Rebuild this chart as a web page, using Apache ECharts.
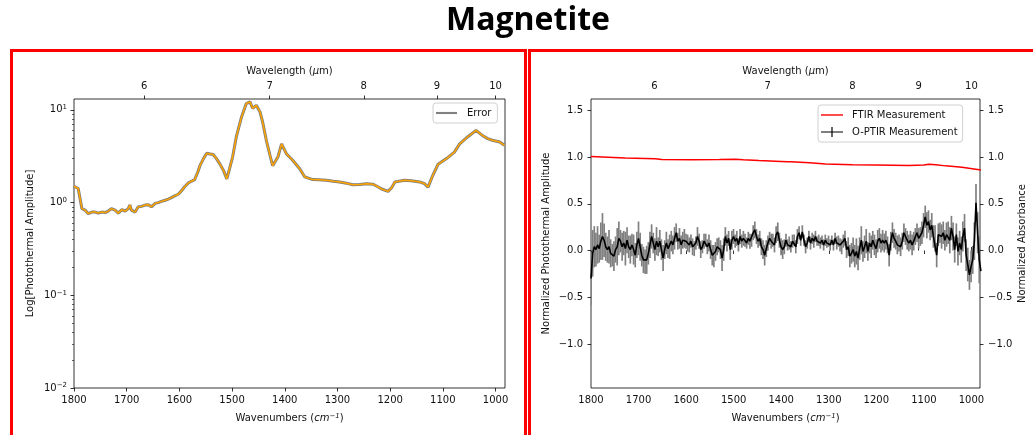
<!DOCTYPE html>
<html>
<head>
<meta charset="utf-8">
<script src="https://cdn.jsdelivr.net/npm/echarts@6/dist/echarts.min.js"></script>
<style>
html,body{margin:0;padding:0;background:#fff;}
#chart{width:1033px;height:435px;}
</style>
</head>
<body>
<div id="chart"></div>
<script>
// ---------------- data ----------------
const WN_TICKS = [1800, 1700, 1600, 1500, 1400, 1300, 1200, 1100, 1000];
const WL_TICKS = [6, 7, 8, 9, 10];
const LOG_TICKS = [0.01, 0.1, 1, 10];
const LOG_MINOR = [0.02,0.03,0.04,0.05,0.06,0.07,0.08,0.09,0.2,0.3,0.4,0.5,0.6,0.7,0.8,0.9,2,3,4,5,6,7,8,9];
const NORM_TICKS = [-1, -0.5, 0, 0.5, 1, 1.5];

// left panel: photothermal amplitude (log)
const LEFT_WN = [1800,1798,1792,1785,1779,1773,1766,1760,1754,1747,1741,1735,1729,1722,1716,1709,1703,1697,1694,1691,1684,1678,1672,1665,1659,1653,1646,1640,1634,1627,1621,1615,1609,1602,1596,1590,1583,1577,1571,1565,1561,1554,1548,1542,1536,1530,1523,1516,1510,1505,1499,1492,1482,1473,1466,1461,1454,1447,1442,1435,1428,1423,1413,1406,1400,1397,1385,1372,1362,1347,1335,1321,1308,1296,1283,1271,1258,1245,1233,1225,1217,1204,1197,1191,1173,1160,1144,1135,1128,1119,1109,1093,1078,1068,1053,1037,1025,1015,1006,992,983];
const LEFT_AMP = [1.5,1.54,1.42,0.86,0.83,0.76,0.79,0.79,0.77,0.79,0.78,0.81,0.86,0.83,0.77,0.84,0.81,0.86,0.94,0.83,0.79,0.90,0.91,0.94,0.95,0.90,0.98,1.0,1.03,1.06,1.09,1.13,1.18,1.23,1.34,1.48,1.63,1.70,1.77,2.14,2.5,3.0,3.4,3.35,3.3,3.0,2.6,2.2,1.8,2.3,3.1,5.1,8.4,11.7,12.2,10.4,11.2,9.5,7.4,4.7,3.24,2.5,3.1,4.3,3.66,3.37,2.86,2.33,1.89,1.77,1.76,1.74,1.70,1.67,1.62,1.56,1.57,1.6,1.58,1.5,1.41,1.32,1.45,1.67,1.74,1.72,1.67,1.6,1.47,1.97,2.59,2.98,3.5,4.3,5.1,6.0,5.3,4.9,4.7,4.5,4.15];

// right panel: FTIR
const FTIR_WN = [1800,1728,1665,1651,1587,1530,1496,1480,1447,1400,1386,1384,1380,1340,1307,1250,1201,1131,1100,1089,1075,1054,1020,980];
const FTIR_ABS = [1.004,0.99,0.982,0.972,0.970,0.972,0.976,0.970,0.962,0.952,0.948,0.940,0.950,0.938,0.926,0.918,0.915,0.908,0.915,0.922,0.918,0.905,0.89,0.862];

// right panel: O-PTIR (uniform sampling from 1800 down)
const OPTIR_START = 1800;
const OPTIR_STEP = 3.445;
const OPTIR_VAL = [
-0.30,-0.03,0.04,0.01,0.06,0.02,0.10,0.15,0.11,0.04,0.01,0.04,-0.03,-0.05,-0.06,0.01,0.04,0.13,0.10,0.04,0.08,0.02,0.11,0.04,0.01,0.06,0.01,-0.05,0.06,0.13,0.04,-0.05,-0.10,-0.12,-0.10,-0.03,0.06,0.15,0.08,0.01,0.10,0.04,0.10,0.01,-0.08,0.01,0.08,0.02,0.04,0.10,0.06,0.13,0.19,0.10,0.13,0.06,0.11,0.13,0.10,0.08,
0.06,0.10,0.04,0.02,0.08,0.15,0.10,0.01,0.04,0.10,0.11,0.04,0.08,0.01,-0.05,-0.06,-0.01,0.04,0.06,0.01,-0.08,0.01,0.15,0.08,0.13,0.01,0.11,0.15,0.10,0.13,0.06,0.15,0.10,0.13,0.11,0.08,0.13,0.10,0.11,0.19,0.22,0.15,0.10,0.13,0.04,0.01,-0.05,0.02,0.08,0.13,0.10,0.11,0.06,0.17,0.20,0.11,0.04,0.01,0.04,0.11,
0.06,0.08,0.04,0.10,0.11,0.04,0.15,0.19,0.11,0.20,0.11,0.04,0.08,0.15,0.08,0.13,0.10,0.15,0.10,0.11,0.08,0.11,0.06,0.11,0.08,0.10,0.06,0.11,0.06,0.13,0.08,0.10,0.06,0.04,0.10,0.13,0.01,0.04,-0.06,-0.03,0.01,-0.06,-0.01,-0.08,0.02,0.11,-0.01,0.04,0.10,-0.01,0.08,0.04,0.11,0.06,0.02,0.10,0.13,0.08,0.11,0.08,
0.11,0.06,-0.05,0.10,0.19,0.13,0.10,0.06,0.08,0.04,0.10,0.19,0.15,0.11,0.08,0.11,0.06,0.10,0.15,0.19,0.13,0.15,0.19,0.27,0.36,0.27,0.31,0.22,0.27,0.15,0.13,-0.05,0.17,0.19,0.15,0.19,0.11,0.17,0.19,0.11,0.24,0.15,0.01,0.17,-0.01,0.08,0.01,0.15,0.24,-0.05,-0.15,-0.26,-0.17,-0.10,0.10,0.51,0.19,-0.10,-0.22
];
const OPTIR_ERR = [
0.28,0.25,0.22,0.18,0.2,0.15,0.2,0.25,0.18,0.15,0.14,0.18,0.15,0.12,0.16,0.14,0.2,0.18,0.12,0.15,0.13,0.18,0.14,0.12,0.15,0.12,0.16,0.13,0.14,0.18,0.15,0.12,0.14,0.13,0.15,0.12,0.14,0.13,0.11,0.12,0.15,0.1,0.12,0.11,0.14,0.1,0.12,0.1,0.13,0.11,0.1,0.12,0.1,0.09,0.11,0.1,0.09,0.1,0.08,0.09,
0.08,0.07,0.09,0.08,0.07,0.1,0.08,0.09,0.07,0.08,0.07,0.08,0.09,0.1,0.11,0.12,0.1,0.09,0.08,0.1,0.14,0.12,0.1,0.09,0.08,0.11,0.1,0.08,0.07,0.08,0.07,0.08,0.07,0.08,0.07,0.06,0.07,0.08,0.07,0.08,0.09,0.08,0.07,0.08,0.09,0.1,0.11,0.09,0.08,0.07,0.08,0.07,0.08,0.09,0.1,0.08,0.09,0.1,0.08,0.07,
0.06,0.07,0.06,0.07,0.06,0.07,0.08,0.07,0.06,0.07,0.06,0.07,0.06,0.06,0.07,0.06,0.07,0.06,0.05,0.06,0.06,0.05,0.06,0.06,0.05,0.06,0.06,0.05,0.06,0.06,0.07,0.06,0.07,0.08,0.07,0.08,0.09,0.1,0.12,0.11,0.13,0.12,0.14,0.13,0.12,0.15,0.11,0.12,0.13,0.1,0.11,0.12,0.1,0.11,0.1,0.12,0.11,0.1,0.11,0.1,
0.1,0.09,0.12,0.1,0.11,0.1,0.09,0.1,0.09,0.1,0.09,0.1,0.09,0.1,0.09,0.1,0.11,0.1,0.09,0.1,0.11,0.1,0.12,0.13,0.12,0.14,0.12,0.11,0.13,0.12,0.14,0.13,0.12,0.11,0.13,0.12,0.11,0.13,0.12,0.14,0.13,0.15,0.14,0.12,0.15,0.13,0.14,0.16,0.15,0.17,0.18,0.16,0.17,0.15,0.2,0.2,0.22,0.25,0.22
];

// ---------------- build ----------------
const FONT = 'DejaVu Sans';
const TXT = '#111';
const leftSeries = LEFT_WN.map((w, i) => [w, LEFT_AMP[i]]);
const ftirSeries = FTIR_WN.map((w, i) => [w, FTIR_ABS[i]]);
const optirSeries = OPTIR_VAL.map((v, i) => [OPTIR_START - i * OPTIR_STEP, v]);
const optirErr = OPTIR_VAL.map((v, i) => [OPTIR_START - i * OPTIR_STEP, v - OPTIR_ERR[i], v + OPTIR_ERR[i]]);
const wlPositions = WL_TICKS.map(w => 10000 / w);

const XMIN = 982, XMAX = 1800;
const minus = s => String(s).replace('-', '\u2212');

function bottomX(grid) {
  return {
    type: 'value', gridIndex: grid, position: 'bottom', inverse: true, min: XMIN, max: XMAX,
    axisLine: {show: false}, splitLine: {show: false},
    axisTick: {show: true, length: 3.5, customValues: WN_TICKS, lineStyle: {color: '#000', width: 0.8}},
    axisLabel: {customValues: WN_TICKS, formatter: v => String(Math.round(v)), fontFamily: FONT, fontSize: 10, color: TXT, margin: 7},
    name: '{t|Wavenumbers (}{i|cm}{s|\u22121}{t|)}', nameLocation: 'middle', nameGap: 25,
    nameTextStyle: {rich: {
      t: {fontFamily: FONT, fontSize: 10, color: TXT},
      i: {fontFamily: FONT, fontSize: 10, color: TXT, fontStyle: 'italic'},
      s: {fontFamily: FONT, fontSize: 7, color: TXT, fontStyle: 'italic', verticalAlign: 'top', lineHeight: 10}
    }}
  };
}
function topX(grid) {
  return {
    type: 'value', gridIndex: grid, position: 'top', inverse: true, min: XMIN, max: XMAX,
    axisLine: {show: false}, splitLine: {show: false},
    axisTick: {show: true, length: 3.5, customValues: wlPositions, lineStyle: {color: '#000', width: 0.8}},
    axisLabel: {customValues: wlPositions, formatter: v => String(Math.round(10000 / v)), fontFamily: FONT, fontSize: 10, color: TXT, margin: 8},
    name: '{t|Wavelength (}{i|\u03bc}{t|m)}', nameLocation: 'middle', nameGap: 22,
    nameTextStyle: {rich: {
      t: {fontFamily: FONT, fontSize: 10, color: TXT},
      i: {fontFamily: FONT, fontSize: 10, color: TXT, fontStyle: 'italic'}
    }}
  };
}

const ICON_ERR = 'path://M0,4 h20 v2 h-20 z';
const ICON_FTIR = 'path://M0,4.3 h22 v1.4 h-22 z';
const ICON_OPTIR = 'path://M0,4.4 h22 v1.2 h-22 z M10.4,0 h1.2 v10 h-1.2 z';

const option = {
  backgroundColor: '#fff',
  animation: false,
  graphic: [
    {type: 'text', left: 446, top: 5, style: {text: 'Magnetite', fontFamily: 'Open Sans', fontWeight: 'bold', fontSize: 32, fill: '#000'}, z: 100},
    {type: 'rect', shape: {x: 11.5, y: 50.5, width: 514, height: 420}, style: {fill: null, stroke: '#ff0000', lineWidth: 3}, z: 100},
    {type: 'rect', shape: {x: 529.5, y: 50.5, width: 520, height: 420}, style: {fill: null, stroke: '#ff0000', lineWidth: 3}, z: 100}
  ],
  grid: [
    {left: 74, top: 99, width: 431, height: 289, show: true, borderColor: '#000', borderWidth: 0.8, backgroundColor: 'transparent'},
    {left: 591, top: 99, width: 389, height: 289, show: true, borderColor: '#000', borderWidth: 0.8, backgroundColor: 'transparent'}
  ],
  legend: [
    {data: [{name: 'Error', icon: ICON_ERR}], left: 433, top: 103, orient: 'vertical', padding: [5, 6, 5, 3],
      itemWidth: 21, itemHeight: 10, borderColor: '#d0d0d0', borderWidth: 1, borderRadius: 3,
      backgroundColor: 'rgba(255,255,255,0.8)',
      textStyle: {fontFamily: FONT, fontSize: 10, color: TXT, padding: [0, 0, 0, 5]}},
    {data: [{name: 'FTIR Measurement', icon: ICON_FTIR}, {name: 'O-PTIR Measurement', icon: ICON_OPTIR}], left: 818, top: 105, orient: 'vertical', padding: [5, 5, 5, 3],
      itemWidth: 22, itemHeight: 10, itemGap: 7, borderColor: '#d0d0d0', borderWidth: 1, borderRadius: 3,
      backgroundColor: 'rgba(255,255,255,0.8)',
      textStyle: {fontFamily: FONT, fontSize: 10, color: TXT, padding: [0, 0, 0, 4]}}
  ],
  xAxis: [bottomX(0), topX(0), bottomX(1), topX(1)],
  yAxis: [
    {type: 'log', gridIndex: 0, min: 0.01, max: 13.1, position: 'left',
      axisLine: {show: false}, splitLine: {show: false},
      axisTick: {show: true, length: 3.5, customValues: LOG_TICKS, lineStyle: {color: '#000', width: 0.8}},
      axisLabel: {customValues: LOG_TICKS, margin: 7, color: TXT,
        formatter: v => '{b|10}{s|' + minus(Math.round(Math.log10(v))) + '}',
        rich: {b: {fontFamily: FONT, fontSize: 10, color: TXT, lineHeight: 12},
               s: {fontFamily: FONT, fontSize: 7, color: TXT, verticalAlign: 'top', lineHeight: 8}}},
      name: 'Log[Photothermal Amplitude]', nameLocation: 'middle', nameRotate: 90, nameGap: 39,
      nameTextStyle: {fontFamily: FONT, fontSize: 10, color: TXT}},
    {type: 'log', gridIndex: 0, min: 0.01, max: 13.1, position: 'left',
      axisLine: {show: false}, splitLine: {show: false}, axisLabel: {show: false},
      axisTick: {show: true, length: 2, customValues: LOG_MINOR, lineStyle: {color: '#000', width: 0.6}}},
    {type: 'value', gridIndex: 1, min: -1.47, max: 1.62, position: 'left',
      axisLine: {show: false}, splitLine: {show: false},
      axisTick: {show: true, length: 3.5, customValues: NORM_TICKS, lineStyle: {color: '#000', width: 0.8}},
      axisLabel: {customValues: NORM_TICKS, margin: 8, fontFamily: FONT, fontSize: 10, color: TXT,
        formatter: v => minus(v.toFixed(1))},
      name: 'Normalized Photothermal Amplitude', nameLocation: 'middle', nameRotate: 90, nameGap: 40,
      nameTextStyle: {fontFamily: FONT, fontSize: 10, color: TXT}},
    {type: 'value', gridIndex: 1, min: -1.47, max: 1.62, position: 'right',
      axisLine: {show: false}, splitLine: {show: false},
      axisTick: {show: true, length: 3.5, customValues: NORM_TICKS, lineStyle: {color: '#000', width: 0.8}},
      axisLabel: {customValues: NORM_TICKS, margin: 8, fontFamily: FONT, fontSize: 10, color: TXT,
        formatter: v => minus(v.toFixed(1))},
      name: 'Normalized Absorbance', nameLocation: 'middle', nameRotate: 90, nameGap: 37,
      nameTextStyle: {fontFamily: FONT, fontSize: 10, color: TXT, verticalAlign: 'top'}}
  ],
  series: [
    {name: 'Error', type: 'line', xAxisIndex: 0, yAxisIndex: 0, data: leftSeries, showSymbol: false, symbol: 'none',
      lineStyle: {color: '#7a7a7a', width: 3}, itemStyle: {color: '#808080'}, z: 2},
    {name: 'Amplitude', type: 'line', xAxisIndex: 0, yAxisIndex: 0, data: leftSeries, showSymbol: false, symbol: 'none',
      lineStyle: {color: '#ffa500', width: 1.5}, itemStyle: {color: '#ffa500'}, z: 3},
    {name: 'O-PTIR error', type: 'custom', xAxisIndex: 2, yAxisIndex: 2, data: optirErr, clip: true,
      encode: {x: 0, y: [1, 2]},
      renderItem: (params, api) => {
        const x = api.value(0);
        const p1 = api.coord([x, api.value(1)]);
        const p2 = api.coord([x, api.value(2)]);
        return {type: 'line', shape: {x1: p1[0], y1: p1[1], x2: p2[0], y2: p2[1]},
          style: {stroke: '#808080', lineWidth: 1.7}};
      }, z: 2},
    {name: 'O-PTIR Measurement', type: 'line', xAxisIndex: 2, yAxisIndex: 2, data: optirSeries, showSymbol: false, symbol: 'none',
      lineStyle: {color: '#000', width: 1.6}, itemStyle: {color: '#000'}, z: 3},
    {name: 'FTIR Measurement', type: 'line', xAxisIndex: 2, yAxisIndex: 3, data: ftirSeries, showSymbol: false, symbol: 'none',
      lineStyle: {color: '#ff0000', width: 1.5}, itemStyle: {color: '#ff0000'}, z: 4}
  ]
};

const chart = echarts.init(document.getElementById('chart'), null, {renderer: 'canvas'});
chart.setOption(option);
</script>
</body>
</html>
